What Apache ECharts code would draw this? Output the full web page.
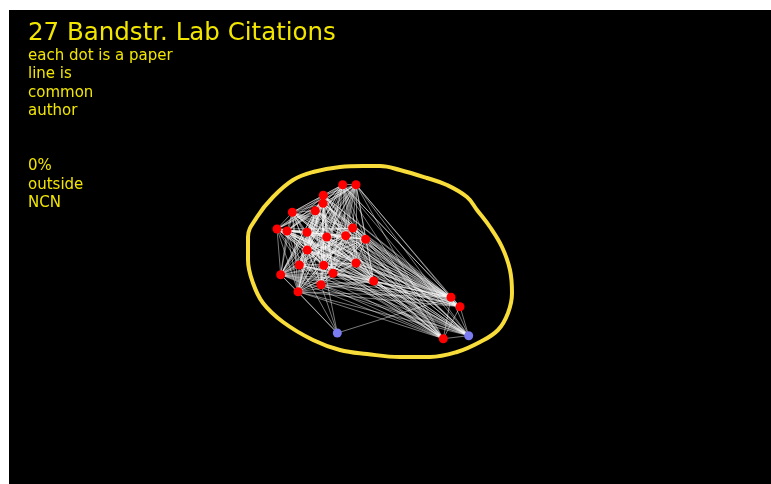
<!DOCTYPE html>
<html>
<head>
<meta charset="UTF-8">
<title>27 Bandstr. Lab Citations</title>
<script type="text/javascript" src="https://cdn.jsdelivr.net/npm/echarts@6/dist/echarts.min.js"></script>
<style>
  body { margin: 0; background: #fff; }
  #main { position: absolute; left: 9px; top: 10px; width: 762px; height: 474px; }
</style>
</head>
<body>
<div id="main"></div>
<script type="text/javascript">
// paper positions (layout coordinates)
var paperX = [342.7, 356, 323.3, 323, 292.3, 315.3, 277, 287, 307, 326.7, 345.7, 352.7, 365.7,
              307.3, 299.3, 323.7, 356, 333, 280.7, 321, 298, 373.7, 451, 460, 443.3, 337.3, 468.7];
var paperY = [184.7, 184.7, 195.3, 203.3, 212.3, 210.7, 229, 231, 232.3, 237, 235.7, 228, 239.3,
              250, 265, 265.3, 263, 273.3, 274.7, 284.7, 291.7, 281, 297.3, 306.7, 338.7, 333, 335.7];
// true = paper outside the lab group (blue)
var paperOutside = [0,0,0,0,0,0,0,0,0,0,0,0,0,0,0,0,0,0,0,0,0,0,0,0,0,1,1];

// papers sharing an author -> every pair is linked
var authorGroups = [
  [0,1,2,3,4,5,6,7,8,9,10,11,12,13,14,15,16,17,18,19,20,21,22,23,24,26],
  [25,14,15,18,19,20,22]
];

// hand drawn boundary around the NCN papers
var ringX = [363,340,313,293,273,257,248,248,253,263,283,313,340,367,400,430,457,480,498,508,512,510,502,490,477,467,447,427,400,380,363];
var ringY = [166,167,172,180,197,217,237,260,283,303,322,340,350,354,357,357,352,342,330,313,293,270,247,227,210,197,185,178,170,166,166];

var titleText = '27 Bandstr. Lab Citations';
var noteText = 'each dot is a paper\nline is\ncommon\nauthor\n\n\n0%\noutside\nNCN';

var nodes = paperX.map(function (x, i) {
    return {
        value: [x, paperY[i]],
        itemStyle: { color: paperOutside[i] ? '#7b7cf2' : '#ff0000' }
    };
});

var seen = {};
var links = [];
authorGroups.forEach(function (g) {
    for (var a = 0; a < g.length; a++) {
        for (var b = a + 1; b < g.length; b++) {
            var s = Math.min(g[a], g[b]), t = Math.max(g[a], g[b]);
            if (seen[s + '-' + t]) continue;
            seen[s + '-' + t] = true;
            links.push({ source: s, target: t });
        }
    }
});

var myChart = echarts.init(document.getElementById('main'));
var option = {
    backgroundColor: '#000',
    animation: false,
    title: [{
        text: titleText,
        left: 14, top: 6,
        textStyle: { color: '#f2e600', fontSize: 24.5, fontWeight: 'normal', fontFamily: 'DejaVu Sans' }
    }, {
        text: noteText,
        left: 14, top: 32,
        textStyle: { color: '#f2e600', fontSize: 15, lineHeight: 18.4, fontWeight: 'normal', fontFamily: 'DejaVu Sans' }
    }],
    grid: { left: 0, right: 0, top: 0, bottom: 0 },
    xAxis: { type: 'value', min: 9, max: 771, show: false },
    yAxis: { type: 'value', min: 10, max: 484, inverse: true, show: false },
    series: [{
        type: 'line',
        data: ringX.map(function (x, i) { return [x, ringY[i]]; }),
        smooth: 0.4,
        symbol: 'none',
        lineStyle: { color: '#f7dc3a', width: 4 },
        z: 1
    }, {
        type: 'graph',
        layout: 'none',
        coordinateSystem: 'cartesian2d',
        symbol: 'circle',
        symbolSize: 9,
        data: nodes,
        links: links,
        lineStyle: { color: '#ffffff', width: 0.8, opacity: 0.6 },
        emphasis: { disabled: true },
        z: 2
    }]
};
myChart.setOption(option);
</script>
</body>
</html>
